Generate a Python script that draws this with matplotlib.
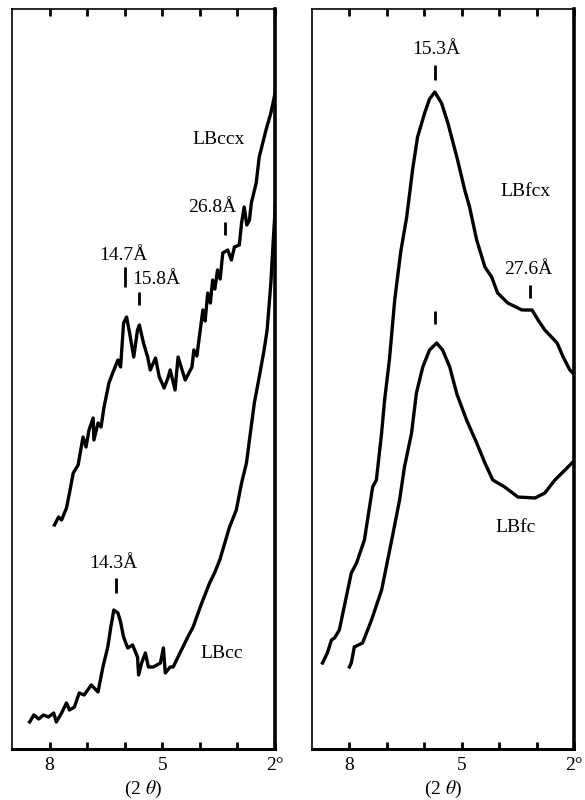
import matplotlib
matplotlib.use("Agg")
import matplotlib.pyplot as plt

plt.rcParams["font.family"] = ["Liberation Serif", "DejaVu Serif"]
plt.rcParams["mathtext.fontset"] = "stix"

# ---- diffraction traces: 2-theta (deg) and relative intensity ----
lbccx_2t = [7.87, 7.76, 7.68, 7.55, 7.47, 7.37, 7.24, 7.11, 7.03, 6.95, 6.84, 6.82,
            6.71, 6.63, 6.55, 6.42, 6.32, 6.18, 6.11, 6.03, 5.95, 5.87, 5.76, 5.66,
            5.61, 5.50, 5.39, 5.32, 5.18, 5.08, 4.95, 4.84, 4.79, 4.66, 4.58, 4.39,
            4.21, 4.16, 4.08, 4.00, 3.92, 3.86, 3.79, 3.72, 3.66, 3.60, 3.53, 3.46,
            3.39, 3.26, 3.16, 3.08, 2.95, 2.89, 2.82, 2.75, 2.68, 2.63, 2.50, 2.42,
            2.24, 2.11, 2.03, 1.98]
lbccx_int = [224, 232, 229, 241, 256, 276, 284, 312, 302, 319, 331, 309,
             326, 322, 342, 366, 376, 389, 382, 426, 432, 416, 392, 419,
             424, 406, 392, 379, 391, 372, 361, 372, 379, 359, 392, 369,
             382, 399, 393, 416, 439, 428, 456, 446, 469, 460, 479, 470,
             496, 499, 489, 502, 504, 526, 542, 524, 529, 546, 566, 592,
             619, 636, 650, 660]

lbcc_2t = [8.53, 8.42, 8.29, 8.16, 8.03, 7.89, 7.82, 7.68, 7.55, 7.47, 7.34, 7.21,
           7.08, 6.89, 6.71, 6.58, 6.45, 6.37, 6.29, 6.18, 6.11, 6.03, 5.92, 5.79,
           5.66, 5.63, 5.55, 5.45, 5.37, 5.24, 5.05, 4.97, 4.92, 4.79, 4.71, 4.53,
           4.32, 4.18, 3.95, 3.74, 3.61, 3.47, 3.21, 3.03, 2.89, 2.76, 2.68, 2.55,
           2.42, 2.29, 2.21, 2.11, 2.05, 1.98]
lbcc_int = [27, 34, 30, 34, 32, 36, 27, 36, 46, 39, 42, 56,
            54, 64, 57, 82, 102, 122, 139, 136, 127, 112, 101, 104,
            92, 74, 86, 96, 82, 82, 86, 101, 76, 82, 82, 96,
            112, 122, 146, 166, 176, 189, 222, 239, 266, 286, 309, 346,
            372, 399, 419, 466, 506, 550]

lbfcx_2t = [8.72, 8.59, 8.48, 8.40, 8.27, 7.95, 7.81, 7.60, 7.38, 7.28, 7.14, 7.06,
            6.93, 6.79, 6.63, 6.47, 6.31, 6.18, 5.99, 5.86, 5.72, 5.54, 5.37, 5.11,
            4.92, 4.79, 4.60, 4.38, 4.20, 4.04, 3.77, 3.39, 3.12, 2.96, 2.78, 2.45,
            2.29, 2.11, 2.03]
lbfcx_int = [86, 96, 109, 111, 119, 176, 186, 209, 262, 269, 316, 349,
             390, 449, 497, 532, 580, 612, 636, 650, 657, 646, 626, 589,
             559, 542, 509, 482, 472, 456, 446, 439, 439, 429, 419, 406,
             392, 379, 376]

lbfc_2t = [8.00, 7.95, 7.87, 7.65, 7.41, 7.14, 6.87, 6.66, 6.53, 6.34, 6.21, 6.04,
           5.86, 5.67, 5.51, 5.32, 5.13, 4.87, 4.60, 4.38, 4.17, 3.85, 3.50, 3.04,
           2.78, 2.51, 2.24, 2.03]
lbfc_int = [82, 86, 102, 106, 129, 159, 209, 249, 282, 316, 356, 382,
            399, 406, 399, 382, 355, 329, 306, 286, 269, 262, 252, 251,
            256, 269, 279, 287]

# peak labels: (text, label x, label y, marker x, marker y0, marker y1)
left_peaks = [
    ("14.7Å", 6.03, 494, 6.00, 462, 482),
    ("15.8Å", 5.16, 469, 5.61, 444, 457),
    ("26.8Å", 3.68, 542, 3.32, 514, 527),
    ("14.3Å", 6.29, 186, 6.24, 156, 171),
]
right_peaks = [
    ("15.3Å", 5.67, 699, 5.72, 669, 684),
    ("27.6Å", 3.23, 479, 3.18, 451, 464),
    ("", 0, 0, 5.72, 425, 438),
]
left_names = [("LBccx", 3.50, 609), ("LBcc", 3.42, 96)]
right_names = [("LBfcx", 3.31, 557), ("LBfc", 3.55, 221)]

tick_pos = [8, 7, 6, 5, 4, 3, 2]
tick_lab = ["8", "", "", "5", "", "", "2°"]

fig = plt.figure(figsize=(5.85, 8), dpi=100)
ax1 = fig.add_axes([12 / 585, 51 / 800, 263 / 585, 740 / 800])
ax2 = fig.add_axes([312 / 585, 51 / 800, 262 / 585, 740 / 800])


def style(ax):
    ax.set_xlim(9, 2)
    ax.set_ylim(0, 740)
    ax.set_yticks([])
    ax.set_xticks(tick_pos)
    ax.set_xticklabels(tick_lab, fontsize=14)
    ax.tick_params(axis="x", direction="in", top=True, bottom=True,
                   length=5, width=2, pad=6)
    ax.spines["left"].set_linewidth(1.2)
    ax.spines["top"].set_linewidth(1.2)
    ax.spines["right"].set_linewidth(2.6)
    ax.spines["bottom"].set_linewidth(2.2)
    ax.set_xlabel("(2 $\\theta$)", fontsize=14, labelpad=3)


def annotate(ax, peaks, names):
    for txt, tx, ty, mx, y0, y1 in peaks:
        ax.plot([mx, mx], [y0, y1], color="black", lw=2.0, solid_capstyle="butt")
        if txt:
            ax.text(tx, ty, txt, ha="center", va="center", fontsize=14)
    for txt, tx, ty in names:
        ax.text(tx, ty, txt, ha="center", va="center", fontsize=14)


for ax in (ax1, ax2):
    style(ax)

ax1.plot(lbccx_2t, lbccx_int, color="black", lw=2.4, solid_joinstyle="round")
ax1.plot(lbcc_2t, lbcc_int, color="black", lw=2.4, solid_joinstyle="round")
ax2.plot(lbfcx_2t, lbfcx_int, color="black", lw=2.4, solid_joinstyle="round")
ax2.plot(lbfc_2t, lbfc_int, color="black", lw=2.4, solid_joinstyle="round")

annotate(ax1, left_peaks, left_names)
annotate(ax2, right_peaks, right_names)

fig.savefig("out.png", dpi=100)
